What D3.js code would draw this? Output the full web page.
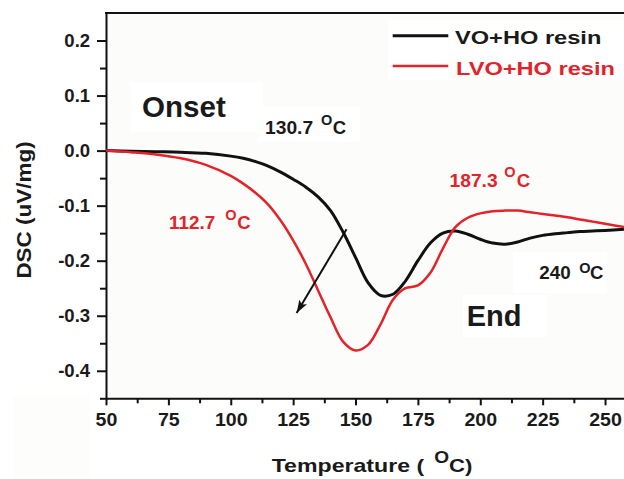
<!DOCTYPE html>
<meta charset="utf-8">
<script src="https://d3js.org/d3.v7.min.js"></script>
<style>
  body { margin: 0; background: #fff; }
  text { font-family: "Liberation Sans", Arial, sans-serif; font-weight: bold; }
</style>
<svg id="chart" width="624" height="479"></svg>
<script>

  // data
  var temps     = [50, 60, 70, 80, 90, 100, 105, 110, 115, 120, 125, 130, 135, 140, 145, 150, 155, 160, 165, 170, 175, 180, 185, 190, 195, 200, 205, 210, 215, 220, 225, 230, 235, 240, 245, 250, 257.6];
  var vohoDSC   = [0, -0.001, -0.002, -0.003, -0.005, -0.010, -0.014, -0.020, -0.028, -0.039, -0.052, -0.066, -0.084, -0.109, -0.148, -0.194, -0.240, -0.263, -0.261, -0.237, -0.200, -0.168, -0.150, -0.146, -0.152, -0.161, -0.168, -0.170, -0.166, -0.159, -0.154, -0.151, -0.149, -0.147, -0.146, -0.145, -0.143];
  var lvohoDSC  = [0, -0.003, -0.007, -0.014, -0.026, -0.046, -0.060, -0.077, -0.098, -0.127, -0.163, -0.205, -0.254, -0.303, -0.347, -0.363, -0.353, -0.316, -0.271, -0.250, -0.245, -0.222, -0.178, -0.139, -0.122, -0.114, -0.110, -0.109, -0.109, -0.112, -0.115, -0.118, -0.121, -0.125, -0.129, -0.133, -0.139];
  var seriesNames = ["VO+HO resin", "LVO+HO resin"];
  var xTicks = [50, 75, 100, 125, 150, 175, 200, 225, 250];
  var xMinor = [62.5, 87.5, 112.5, 137.5, 162.5, 187.5, 212.5, 237.5];
  var yTicks = [-0.4, -0.3, -0.2, -0.1, 0.0, 0.1, 0.2];
  var yMinor = [-0.45, -0.35, -0.25, -0.15, -0.05, 0.05, 0.15];
  var arrowFrom = [146.4, -0.143], arrowTo = [126.4, -0.295];

  var black = "#111", red = "#e3232a", plotBg = "#fcfcfa";

  var svg = d3.select("svg");

  var x = d3.scaleLinear().domain([50, 257.6]).range([106, 624]);
  var y = d3.scaleLinear().domain([-0.45, 0.25]).range([398.3, 13]);

  // backgrounds
  svg.append("rect").attr("x", 106).attr("y", 13).attr("width", 518).attr("height", 385).attr("fill", plotBg);
  svg.append("rect").attr("x", 13).attr("y", 395).attr("width", 77).attr("height", 84).attr("fill", "#fdfdfc");

  // white boxes behind the annotations
  [[130, 82, 133, 50], [258, 107, 102, 35], [513, 252, 94, 41], [463, 295, 84, 42], [388, 20, 236, 60]].forEach(function(b) {
    svg.append("rect").attr("x", b[0]).attr("y", b[1]).attr("width", b[2]).attr("height", b[3]).attr("fill", "#fff");
  });

  function fmt(d) { return d3.format(".1f")(d).replace("\u2212", "-"); }

  // axes
  var yAxis = svg.append("g").attr("transform", "translate(106,0)")
    .call(d3.axisLeft(y).tickValues(yTicks).tickSize(9).tickSizeOuter(0).tickPadding(6).tickFormat(fmt));
  svg.append("g").attr("transform", "translate(106,0)")
    .call(d3.axisLeft(y).tickValues(yMinor).tickSize(6).tickFormat(""))
    .select(".domain").remove();
  var xAxis = svg.append("g").attr("transform", "translate(0,398.3)")
    .call(d3.axisBottom(x).tickValues(xTicks).tickSize(7).tickSizeOuter(0).tickPadding(8));
  svg.append("g").attr("transform", "translate(0,398.3)")
    .call(d3.axisBottom(x).tickValues(xMinor).tickSize(5).tickFormat(""))
    .select(".domain").remove();

  svg.selectAll(".domain, .tick line").attr("stroke", black).attr("stroke-width", 2);
  svg.selectAll(".tick text").attr("font-size", 17.5).attr("fill", "#1a1a1a");
  yAxis.selectAll(".tick text").attr("transform", "scale(1.06,1)");
  xAxis.selectAll(".tick text").attr("transform", "scale(1.12,1)");

  // top frame line
  svg.append("line").attr("x1", 105).attr("x2", 624).attr("y1", 13).attr("y2", 13)
    .attr("stroke", black).attr("stroke-width", 2);

  // curves
  var line = d3.line()
    .x(function(d) { return x(d[0]); })
    .y(function(d) { return y(d[1]); })
    .curve(d3.curveCatmullRom.alpha(0.5));

  svg.append("path").datum(d3.zip(temps, vohoDSC))
    .attr("d", line).attr("fill", "none").attr("stroke", black).attr("stroke-width", 3);
  svg.append("path").datum(d3.zip(temps, lvohoDSC))
    .attr("d", line).attr("fill", "none").attr("stroke", red).attr("stroke-width", 2.5);

  // arrow
  svg.append("defs").append("marker")
    .attr("id", "head").attr("markerUnits", "userSpaceOnUse")
    .attr("markerWidth", 14).attr("markerHeight", 9).attr("refX", 13).attr("refY", 4.5)
    .attr("orient", "auto")
    .append("path").attr("d", "M0,0 L13,4.5 L0,9 L3,4.5 z").attr("fill", black);
  svg.append("line")
    .attr("x1", x(arrowFrom[0])).attr("y1", y(arrowFrom[1]))
    .attr("x2", x(arrowTo[0])).attr("y2", y(arrowTo[1]))
    .attr("stroke", black).attr("stroke-width", 2).attr("marker-end", "url(#head)");

  // text helper
  function txt(px, py, s, size, sx, color, anchor, rot) {
    return svg.append("text")
      .attr("transform", "translate(" + px + "," + py + ")" + (rot ? " rotate(" + rot + ")" : "") + " scale(" + sx + ",1)")
      .attr("font-size", size).attr("fill", color).attr("text-anchor", anchor || "start")
      .text(s);
  }

  // legend
  svg.append("line").attr("x1", 392.7).attr("x2", 448.3).attr("y1", 35.7).attr("y2", 35.7)
    .attr("stroke", black).attr("stroke-width", 3);
  svg.append("line").attr("x1", 392.7).attr("x2", 448.3).attr("y1", 66).attr("y2", 66)
    .attr("stroke", red).attr("stroke-width", 2.5);
  txt(455, 43.5, seriesNames[0], 18.6, 1.27, "#1a1a1a");
  txt(456, 75, seriesNames[1], 18.6, 1.27, red);

  // annotations
  txt(142, 116.7, "Onset", 29, 1.02, "#1a1a1a");
  txt(466.7, 326, "End", 29, 1.0, "#1a1a1a");

  txt(265, 134.4, "130.7", 18.5, 1.04, "#1a1a1a");
  txt(321, 124.8, "O", 14.5, 1, "#1a1a1a");
  txt(332.7, 134.4, "C", 18.5, 1, "#1a1a1a");

  txt(169, 229.3, "112.7", 18.5, 1.02, red);
  txt(225.3, 219.5, "O", 14.5, 1, red);
  txt(237.3, 229.3, "C", 18.5, 1, red);

  txt(449.5, 186.7, "187.3", 18.5, 1.04, red);
  txt(504.3, 177.2, "O", 14.5, 1, red);
  txt(516.7, 186.7, "C", 18.5, 1, red);

  txt(539.3, 279.3, "240", 17.6, 1.07, "#1a1a1a");
  txt(579.3, 272.5, "O", 14.5, 1, "#1a1a1a");
  txt(590, 279.3, "C", 18.5, 1, "#1a1a1a");

  // axis titles
  txt(31, 210, "DSC (uV/mg)", 21, 1.07, "#1a1a1a", "middle", -90);
  txt(271.7, 471.5, "Temperature (", 18.5, 1.25, "#1a1a1a");
  txt(434.3, 463, "O", 16.6, 1.15, "#1a1a1a");
  txt(449, 471.5, "C)", 18.5, 1.2, "#1a1a1a");

</script>
